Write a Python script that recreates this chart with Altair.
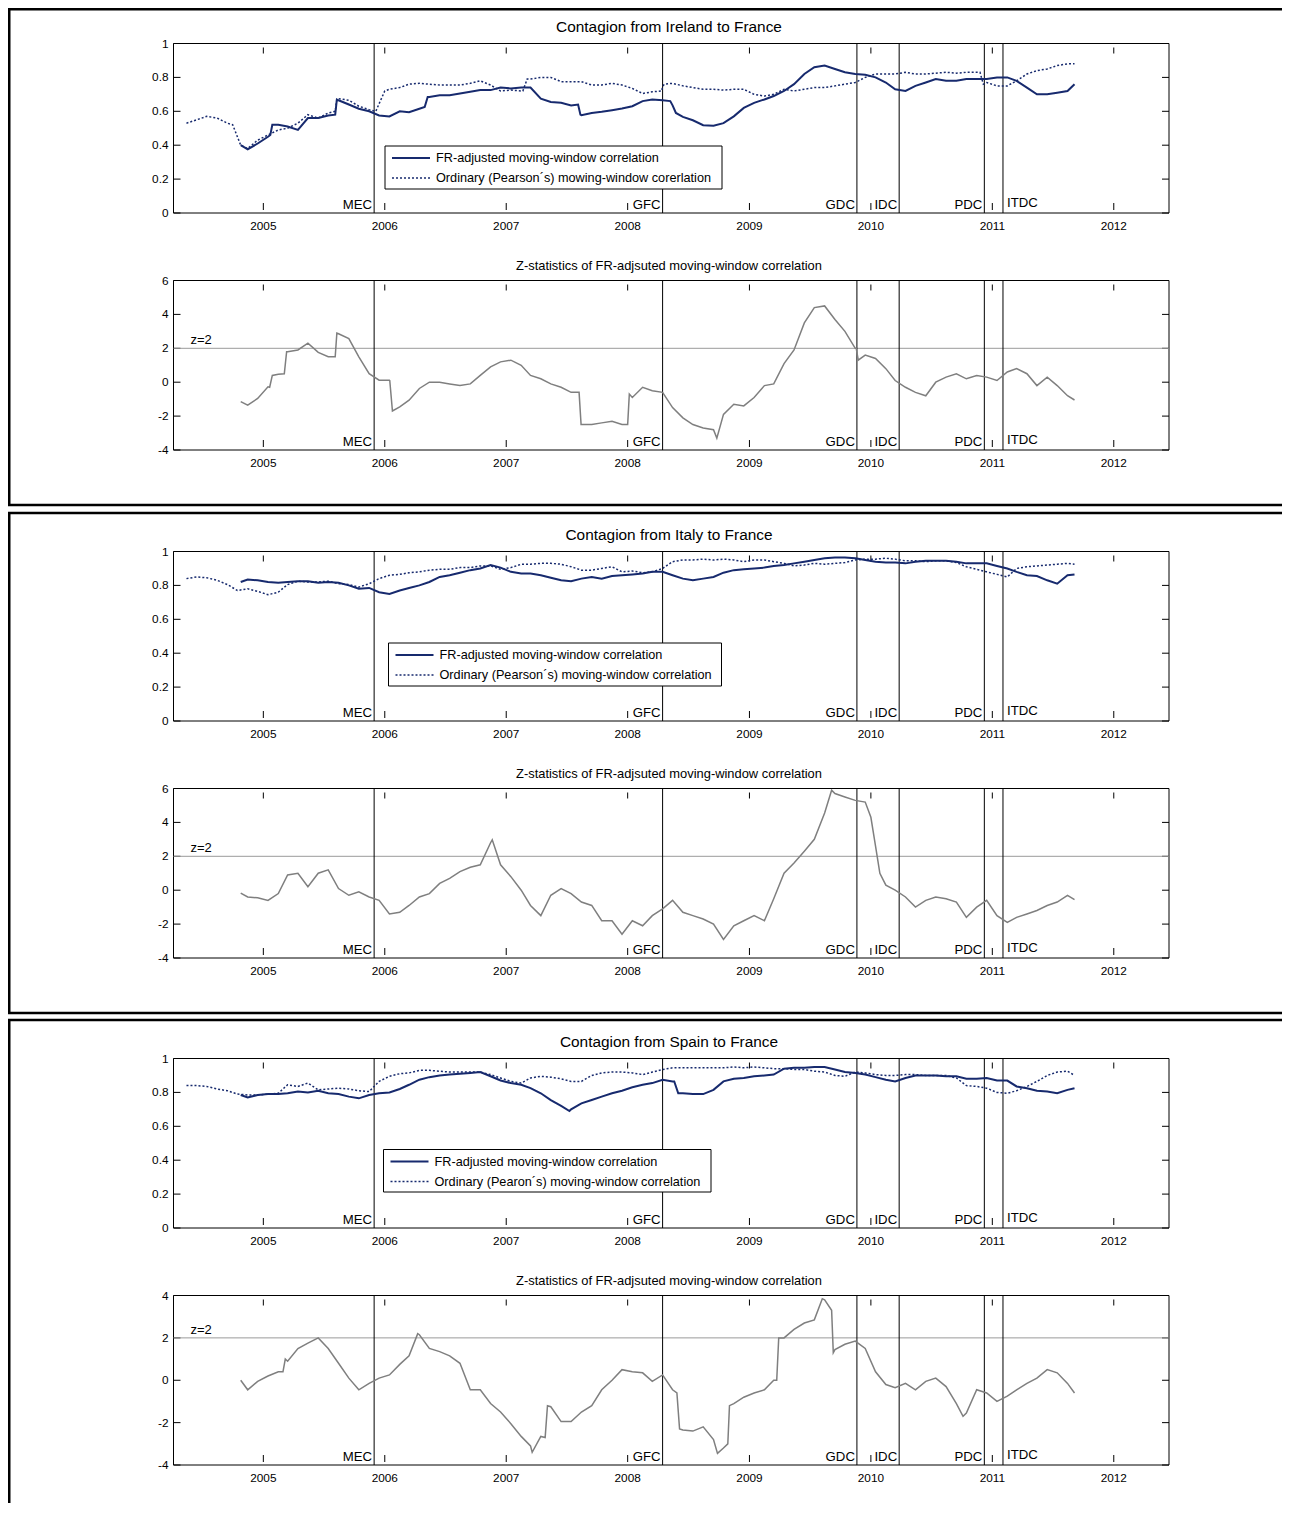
import altair as alt
import pandas as pd

FONT = "Liberation Sans"
NAVY = "#172a6e"
ZGRAY = "#7f7f7f"

# ---------------- data ----------------
def month_dates(y0, m0, y1, m1):
    out = []
    y, m = y0, m0
    while (y, m) <= (y1, m1):
        out.append(f"{y}-{m:02d}-15")
        m += 1
        if m > 12:
            m = 1
            y += 1
    return out

PEARSON_DATES = month_dates(2004, 5, 2011, 8) + ["2011-09-05"]
FR_DATES = ["2004-10-25"] + month_dates(2004, 11, 2011, 8) + ["2011-09-05"]

IE_PEARSON = [0.53, 0.55, 0.57, 0.56, 0.53, 0.45, 0.38, 0.43,
              0.46, 0.49, 0.50, 0.53, 0.58, 0.56, 0.59, 0.675, 0.665, 0.63, 0.61, 0.645,
              0.73, 0.74, 0.76, 0.765, 0.76, 0.755, 0.755, 0.755, 0.765, 0.78, 0.755, 0.72,
              0.725, 0.72, 0.79, 0.80, 0.80, 0.775, 0.775, 0.775, 0.755, 0.755, 0.765, 0.755,
              0.735, 0.705, 0.715, 0.745, 0.765, 0.75, 0.74, 0.73, 0.73, 0.725, 0.73, 0.73,
              0.70, 0.69, 0.70, 0.73, 0.72, 0.73, 0.74, 0.74, 0.75, 0.76, 0.77, 0.80,
              0.82, 0.82, 0.82, 0.83, 0.82, 0.82, 0.825, 0.83, 0.825, 0.83, 0.83, 0.77,
              0.75, 0.75, 0.78, 0.82, 0.84, 0.85, 0.87, 0.88, 0.88]
IE_PEARSON_EXTRA = [("2004-10-01", 0.52), ("2004-10-25", 0.40), ("2005-08-05", 0.60),
                    ("2005-08-10", 0.67), ("2005-12-05", 0.60), ("2006-01-01", 0.72),
                    ("2007-02-20", 0.72), ("2007-03-05", 0.79), ("2008-04-12", 0.72),
                    ("2008-04-20", 0.76), ("2010-11-25", 0.83), ("2010-12-05", 0.76)]
IE_FR = [0.40, 0.375, 0.41,
         0.45, 0.52, 0.51, 0.49, 0.56, 0.56, 0.575, 0.665, 0.64, 0.615, 0.60, 0.575,
         0.57, 0.60, 0.595, 0.615, 0.685, 0.695, 0.695, 0.705, 0.715, 0.725, 0.725, 0.74,
         0.735, 0.74, 0.74, 0.675, 0.655, 0.65, 0.635, 0.577, 0.59, 0.597, 0.606, 0.616,
         0.63, 0.66, 0.67, 0.665, 0.635, 0.567, 0.547, 0.518, 0.515, 0.53, 0.57, 0.62,
         0.65, 0.67, 0.69, 0.72, 0.76, 0.82, 0.86, 0.87, 0.85, 0.83, 0.82, 0.815,
         0.80, 0.77, 0.73, 0.72, 0.75, 0.77, 0.79, 0.78, 0.78, 0.79, 0.79, 0.79,
         0.80, 0.80, 0.78, 0.74, 0.70, 0.70, 0.71, 0.72, 0.76]
IE_FR_EXTRA = [("2005-01-22", 0.46), ("2005-01-28", 0.52), ("2005-08-05", 0.58),
               ("2005-08-10", 0.67), ("2006-05-01", 0.625), ("2006-05-10", 0.685),
               ("2007-08-05", 0.64), ("2007-08-12", 0.58), ("2008-05-08", 0.66),
               ("2008-05-25", 0.59)]
IE_Z = [-1.15, -1.35, -0.96,
        -0.27, 0.47, 1.8, 1.9, 2.3, 1.76, 1.5, 2.86, 2.57, 1.5, 0.5, 0.12,
        0.12, -1.45, -1.06, -0.37, 0.0, 0.0, -0.1, -0.2, -0.1, 0.4, 0.9, 1.2,
        1.3, 1.0, 0.4, 0.2, -0.1, -0.3, -0.6, -2.5, -2.5, -2.4, -2.3, -2.5,
        -0.9, -0.3, -0.5, -0.6, -1.5, -2.1, -2.5, -2.7, -2.8, -1.9, -1.3, -1.4,
        -0.9, -0.2, -0.1, 1.1, 1.9, 3.5, 4.4, 4.5, 3.7, 3.0, 2.0, 1.6,
        1.4, 0.8, 0.1, -0.3, -0.6, -0.8, 0.0, 0.3, 0.5, 0.2, 0.4, 0.3,
        0.1, 0.6, 0.8, 0.5, -0.2, 0.3, -0.2, -0.8, -1.05]
IE_Z_EXTRA = [("2005-01-20", -0.3), ("2005-01-28", 0.4), ("2005-03-05", 0.5),
              ("2005-03-12", 1.8), ("2005-08-05", 1.5), ("2005-08-10", 2.9),
              ("2006-01-16", 0.1), ("2006-01-24", -1.7), ("2007-08-08", -0.6),
              ("2007-08-14", -2.5), ("2008-01-01", -2.5), ("2008-01-06", -0.7),
              ("2008-09-25", -3.3), ("2009-11-18", 2.0), ("2009-11-24", 1.3)]

IT_PEARSON = [0.84, 0.85, 0.845, 0.83, 0.805, 0.77, 0.78, 0.765,
              0.745, 0.76, 0.805, 0.825, 0.82, 0.82, 0.825, 0.81, 0.805, 0.79, 0.81, 0.84,
              0.86, 0.865, 0.875, 0.88, 0.89, 0.895, 0.895, 0.905, 0.905, 0.915, 0.915, 0.895,
              0.905, 0.925, 0.925, 0.93, 0.93, 0.925, 0.91, 0.89, 0.89, 0.90, 0.91, 0.88,
              0.885, 0.875, 0.88, 0.90, 0.94, 0.95, 0.95, 0.955, 0.95, 0.955, 0.95, 0.94,
              0.95, 0.95, 0.94, 0.93, 0.915, 0.92, 0.93, 0.925, 0.93, 0.935, 0.95, 0.955,
              0.955, 0.96, 0.955, 0.945, 0.945, 0.94, 0.945, 0.945, 0.935, 0.91, 0.895, 0.88,
              0.865, 0.85, 0.90, 0.91, 0.915, 0.92, 0.925, 0.93, 0.925]
IT_PEARSON_EXTRA = []
IT_FR = [0.82, 0.835, 0.83,
         0.82, 0.815, 0.82, 0.825, 0.825, 0.815, 0.82, 0.815, 0.80, 0.78, 0.785, 0.76,
         0.75, 0.77, 0.785, 0.80, 0.82, 0.85, 0.86, 0.875, 0.89, 0.90, 0.92, 0.905,
         0.88, 0.87, 0.87, 0.86, 0.845, 0.83, 0.825, 0.84, 0.85, 0.84, 0.855, 0.86,
         0.865, 0.87, 0.88, 0.88, 0.86, 0.84, 0.83, 0.84, 0.85, 0.875, 0.89, 0.895,
         0.90, 0.905, 0.915, 0.92, 0.93, 0.94, 0.95, 0.96, 0.965, 0.965, 0.96, 0.95,
         0.94, 0.935, 0.935, 0.93, 0.94, 0.945, 0.945, 0.945, 0.94, 0.93, 0.93, 0.93,
         0.915, 0.90, 0.88, 0.86, 0.855, 0.83, 0.81, 0.86, 0.865]
IT_FR_EXTRA = []
IT_Z = [-0.17, -0.4, -0.45,
        -0.6, -0.2, 0.9, 1.0, 0.2, 1.0, 1.2, 0.1, -0.3, -0.1, -0.4, -0.6,
        -1.4, -1.3, -0.9, -0.4, -0.2, 0.4, 0.7, 1.1, 1.35, 1.5, 2.8, 1.5,
        0.8, 0.0, -0.9, -1.5, -0.3, 0.1, -0.2, -0.7, -0.9, -1.8, -1.8, -2.6,
        -1.8, -2.1, -1.5, -1.1, -0.6, -1.3, -1.5, -1.7, -2.0, -2.9, -2.1, -1.8,
        -1.5, -1.8, -0.5, 1.0, 1.6, 2.3, 3.0, 4.55, 5.7, 5.5, 5.3, 5.2,
        2.6, 0.3, 0.0, -0.4, -1.0, -0.6, -0.4, -0.5, -0.7, -1.6, -1.0, -0.6,
        -1.5, -1.9, -1.6, -1.4, -1.2, -0.9, -0.7, -0.3, -0.55]
IT_Z_EXTRA = [("2006-11-20", 2.97), ("2009-09-05", 5.9), ("2010-01-01", 4.3),
              ("2010-01-28", 1.0)]

ES_PEARSON = [0.84, 0.84, 0.835, 0.82, 0.81, 0.79, 0.785, 0.785,
              0.79, 0.795, 0.845, 0.835, 0.855, 0.815, 0.82, 0.825, 0.82, 0.81, 0.805, 0.865,
              0.895, 0.91, 0.915, 0.93, 0.93, 0.925, 0.92, 0.92, 0.92, 0.92, 0.905, 0.885,
              0.865, 0.855, 0.885, 0.895, 0.89, 0.88, 0.865, 0.865, 0.90, 0.915, 0.92, 0.92,
              0.915, 0.905, 0.92, 0.935, 0.945, 0.945, 0.945, 0.945, 0.945, 0.945, 0.95, 0.945,
              0.95, 0.945, 0.94, 0.94, 0.935, 0.935, 0.925, 0.92, 0.90, 0.895, 0.92, 0.915,
              0.905, 0.90, 0.90, 0.905, 0.905, 0.90, 0.90, 0.90, 0.885, 0.84, 0.835, 0.825,
              0.80, 0.795, 0.81, 0.835, 0.865, 0.90, 0.92, 0.925, 0.90]
ES_PEARSON_EXTRA = []
ES_FR = [0.785, 0.77, 0.785,
         0.79, 0.79, 0.795, 0.805, 0.80, 0.81, 0.795, 0.79, 0.775, 0.765, 0.785, 0.795,
         0.80, 0.82, 0.845, 0.875, 0.89, 0.90, 0.905, 0.91, 0.915, 0.92, 0.895, 0.87,
         0.855, 0.845, 0.825, 0.795, 0.755, 0.72, 0.70, 0.735, 0.755, 0.775, 0.795, 0.81,
         0.83, 0.845, 0.855, 0.875, 0.865, 0.795, 0.79, 0.79, 0.815, 0.865, 0.88, 0.885,
         0.895, 0.90, 0.905, 0.94, 0.945, 0.945, 0.95, 0.95, 0.935, 0.92, 0.915, 0.905,
         0.89, 0.875, 0.865, 0.885, 0.90, 0.90, 0.90, 0.895, 0.895, 0.88, 0.88, 0.885,
         0.87, 0.87, 0.835, 0.825, 0.81, 0.805, 0.795, 0.815, 0.825]
ES_FR_EXTRA = [("2007-07-10", 0.69), ("2008-05-20", 0.865), ("2008-06-01", 0.795)]
ES_Z = [0.0, -0.45, -0.05,
        0.2, 0.4, 0.9, 1.5, 1.75, 2.0, 1.5, 0.8, 0.1, -0.45, -0.15, 0.1,
        0.25, 0.75, 1.15, 2.15, 1.5, 1.35, 1.15, 0.8, -0.45, -0.45, -1.1, -1.5,
        -2.05, -2.65, -3.1, -2.65, -1.25, -1.95, -1.95, -1.5, -1.2, -0.45, 0.0, 0.5,
        0.4, 0.35, -0.05, 0.25, -0.45, -2.35, -2.4, -2.2, -2.8, -3.2, -1.1, -0.8,
        -0.6, -0.45, 0.0, 2.0, 2.4, 2.7, 2.85, 3.8, 1.45, 1.7, 1.85, 1.5,
        0.4, -0.2, -0.35, -0.15, -0.45, -0.05, 0.1, -0.3, -1.1, -1.55, -0.45, -0.6,
        -1.0, -0.75, -0.45, -0.15, 0.1, 0.5, 0.35, -0.15, -0.6]
ES_Z_EXTRA = [("2005-03-01", 0.4), ("2005-03-08", 1.0), ("2006-04-10", 2.2),
              ("2007-03-20", -3.4), ("2007-04-28", -2.7), ("2007-05-05", -1.2),
              ("2008-05-28", -0.6), ("2008-06-05", -2.3), ("2008-09-27", -3.45),
              ("2008-10-28", -3.0), ("2008-11-02", -1.2), ("2009-03-24", 0.0),
              ("2009-03-30", 2.0), ("2009-08-08", 3.85), ("2009-09-05", 3.3),
              ("2009-09-10", 1.3), ("2010-10-05", -1.7)]

EVENTS = ["MEC", "GFC", "GDC", "IDC", "PDC", "ITDC"]
EVENT_DATES = ["2005-11-30", "2008-04-15", "2009-11-20", "2010-03-27", "2010-12-08", "2011-02-02"]
EVENT_SIDE = ["left", "left", "left", "left", "left", "right"]

YEARS = ["2005", "2006", "2007", "2008", "2009", "2010", "2011", "2012"]
YEAR_DATES = [f"{y}-01-01" for y in YEARS]

CORR_TICKS = [0, 0.2, 0.4, 0.6, 0.8, 1]
CORR_LABELS = ["0", "0.2", "0.4", "0.6", "0.8", "1"]
Z_TICKS_6 = [-4, -2, 0, 2, 4, 6]
Z_TICKS_4 = [-4, -2, 0, 2, 4]

SECTIONS = [
    dict(title="Contagion from Ireland to France",
         leg1="FR-adjusted moving-window correlation",
         leg2="Ordinary (Pearson\u00b4s) mowing-window corerlation",
         pearson=(IE_PEARSON, IE_PEARSON_EXTRA), fr=(IE_FR, IE_FR_EXTRA), z=(IE_Z, IE_Z_EXTRA),
         zmax=6, zticks=Z_TICKS_6),
    dict(title="Contagion from Italy to France",
         leg1="FR-adjusted moving-window correlation",
         leg2="Ordinary (Pearson\u00b4s) moving-window correlation",
         pearson=(IT_PEARSON, IT_PEARSON_EXTRA), fr=(IT_FR, IT_FR_EXTRA), z=(IT_Z, IT_Z_EXTRA),
         zmax=6, zticks=Z_TICKS_6),
    dict(title="Contagion from Spain to France",
         leg1="FR-adjusted moving-window correlation",
         leg2="Ordinary (Pearon\u00b4s) moving-window correlation",
         pearson=(ES_PEARSON, ES_PEARSON_EXTRA), fr=(ES_FR, ES_FR_EXTRA), z=(ES_Z, ES_Z_EXTRA),
         zmax=4, zticks=Z_TICKS_4),
]
SUBTITLE = "Z-statistics of FR-adjsuted moving-window correlation"


def series_frame(dates, values, extra):
    pairs = list(zip(dates, values)) + list(extra)
    pairs.sort(key=lambda p: p[0])
    return pd.DataFrame(pairs, columns=["d", "v"])


# ---------------- layout ----------------
W, H = 1274, 1495
X0, X1 = 165.5, 1161.0
BOX_TOPS = [-3, 505, 1012]
BOX_BOTTOMS = [497, 1005, None]
LEGEND_BOXES = [(377, 714, 138, 181), (380.5, 713.5, 635, 678), (375.5, 703, 1141.5, 1184)]
PANEL_H = 169.5
TICK_FS = 11.8
EVENT_FS = 13.2

XSCALE = alt.Scale(type="utc",
                   domain=[alt.DateTime(year=2004, month=4, date=6, utc=True),
                           alt.DateTime(year=2012, month=6, date=15, utc=True)],
                   range=[X0, X1])

ONE = pd.DataFrame({"k": [0]})


def xenc(field):
    return alt.X(f"{field}:T", scale=XSCALE, axis=None)


def panel(top, bottom, ymin, ymax, ticks, tick_labels, series, zline=False):
    ys = alt.Scale(domain=[ymin, ymax], range=[bottom, top], nice=False, zero=False)

    def yenc(field):
        return alt.Y(f"{field}:Q", scale=ys, axis=None)

    tick_df = pd.DataFrame({"v": ticks, "lab": tick_labels})
    year_df = pd.DataFrame({"d": YEAR_DATES, "lab": YEARS})
    ev_df = pd.DataFrame({"d": EVENT_DATES, "lab": EVENTS, "side": EVENT_SIDE})

    layers = []
    layers.append(alt.Chart(ONE).mark_rect(filled=False, stroke="black", strokeWidth=1).encode(
        x=alt.value(X0), x2=alt.value(X1), y=alt.value(top), y2=alt.value(bottom)))
    layers.append(alt.Chart(tick_df).mark_rule(color="black", strokeWidth=1).encode(
        y=yenc("v"), x=alt.value(X0), x2=alt.value(X0 + 7)))
    layers.append(alt.Chart(tick_df).mark_rule(color="black", strokeWidth=1).encode(
        y=yenc("v"), x=alt.value(X1 - 7), x2=alt.value(X1)))
    layers.append(alt.Chart(tick_df).mark_text(align="right", baseline="middle", font=FONT,
                                               fontSize=TICK_FS, color="black").encode(
        y=yenc("v"), x=alt.value(X0 - 5), text="lab:N"))
    layers.append(alt.Chart(year_df).mark_rule(color="black", strokeWidth=1).encode(
        x=xenc("d"), y=alt.value(top + 4), y2=alt.value(top + 10)))
    layers.append(alt.Chart(year_df).mark_rule(color="black", strokeWidth=1).encode(
        x=xenc("d"), y=alt.value(bottom - 10), y2=alt.value(bottom - 3)))
    layers.append(alt.Chart(year_df).mark_text(align="center", baseline="middle", font=FONT,
                                               fontSize=TICK_FS, color="black").encode(
        x=xenc("d"), y=alt.value(bottom + 12.5), text="lab:N"))
    if zline:
        zdf = pd.DataFrame({"v": [2]})
        layers.append(alt.Chart(zdf).mark_rule(color="#9a9a9a", strokeWidth=1).encode(
            y=yenc("v"), x=alt.value(X0), x2=alt.value(X1)))
        layers.append(alt.Chart(zdf).mark_text(align="left", baseline="bottom", font=FONT,
                                               fontSize=13, dy=-1, text="z=2").encode(
            y=yenc("v"), x=alt.value(X0 + 17)))
    layers.append(alt.Chart(ev_df).mark_rule(color="black", strokeWidth=1).encode(
        x=xenc("d"), y=alt.value(top), y2=alt.value(bottom)))
    layers.append(alt.Chart(ev_df).transform_filter("datum.side == 'left'").mark_text(
        align="right", baseline="bottom", font=FONT, fontSize=EVENT_FS, dx=-2).encode(
        x=xenc("d"), y=alt.value(bottom - 1), text="lab:N"))
    layers.append(alt.Chart(ev_df).transform_filter("datum.side == 'right'").mark_text(
        align="left", baseline="bottom", font=FONT, fontSize=EVENT_FS, dx=4).encode(
        x=xenc("d"), y=alt.value(bottom - 3), text="lab:N"))
    for df, style in series:
        layers.append(alt.Chart(df).mark_line(**style).encode(x=xenc("d"), y=yenc("v")))
    return alt.layer(*layers)


def legend(box, lab1, lab2):
    bx0, bx1, by0, by1 = box
    return [
        alt.Chart(ONE).mark_rect(fill="white", stroke="black", strokeWidth=1).encode(
            x=alt.value(bx0), x2=alt.value(bx1), y=alt.value(by0), y2=alt.value(by1)),
        alt.Chart(ONE).mark_rule(color=NAVY, strokeWidth=2).encode(
            x=alt.value(bx0 + 7), x2=alt.value(bx0 + 45), y=alt.value(by0 + 12)),
        alt.Chart(ONE).mark_rule(color=NAVY, strokeWidth=1.5, strokeDash=[2, 2]).encode(
            x=alt.value(bx0 + 7), x2=alt.value(bx0 + 45), y=alt.value(by0 + 32)),
        alt.Chart(ONE).mark_text(align="left", baseline="middle", font=FONT, fontSize=12.7,
                                 text=lab1).encode(x=alt.value(bx0 + 51), y=alt.value(by0 + 12)),
        alt.Chart(ONE).mark_text(align="left", baseline="middle", font=FONT, fontSize=12.7,
                                 text=lab2).encode(x=alt.value(bx0 + 51), y=alt.value(by0 + 32)),
    ]


panels = []
decor = []
for i, s in enumerate(SECTIONS):
    bt = BOX_TOPS[i]
    t_top = bt + 38.5
    b_top = bt + 275.5
    pearson_df = series_frame(PEARSON_DATES, *s["pearson"])
    fr_df = series_frame(FR_DATES, *s["fr"])
    z_df = series_frame(FR_DATES, *s["z"])
    panels.append(panel(t_top, t_top + PANEL_H, 0, 1, CORR_TICKS, CORR_LABELS, [
        (pearson_df, dict(color=NAVY, strokeWidth=1.5, strokeDash=[2, 2])),
        (fr_df, dict(color=NAVY, strokeWidth=2)),
    ]))
    panels.append(panel(b_top, b_top + PANEL_H, -4, s["zmax"], s["zticks"],
                        [str(v) for v in s["zticks"]],
                        [(z_df, dict(color=ZGRAY, strokeWidth=1.5))], zline=True))
    decor.append(alt.Chart(ONE).mark_text(align="center", baseline="middle", font=FONT,
                                          fontSize=15.4, text=s["title"]).encode(
        x=alt.value(661), y=alt.value(bt + 22)))
    decor.append(alt.Chart(ONE).mark_text(align="center", baseline="middle", font=FONT,
                                          fontSize=12.9, text=SUBTITLE).encode(
        x=alt.value(661), y=alt.value(bt + 260.5)))
    decor.extend(legend(LEGEND_BOXES[i], s["leg1"], s["leg2"]))
    ytop = max(bt, 1.25)
    ybot = BOX_BOTTOMS[i] if BOX_BOTTOMS[i] is not None else H
    decor.append(alt.Chart(ONE).mark_rule(color="black", strokeWidth=2.5).encode(
        x=alt.value(1.25), y=alt.value(ytop), y2=alt.value(ybot)))
    decor.append(alt.Chart(ONE).mark_rule(color="black", strokeWidth=2.5).encode(
        x=alt.value(0), x2=alt.value(W), y=alt.value(ytop)))
    if BOX_BOTTOMS[i] is not None:
        decor.append(alt.Chart(ONE).mark_rule(color="black", strokeWidth=2.5).encode(
            x=alt.value(0), x2=alt.value(W), y=alt.value(BOX_BOTTOMS[i])))

chart = alt.layer(*panels, *decor).resolve_scale(y="independent").properties(
    width=W, height=H, padding=0, autosize=alt.AutoSizeParams(type="none"),
    background="white",
).configure_view(stroke=None)

chart.save("out.html", embed_options={"renderer": "svg", "actions": False})
